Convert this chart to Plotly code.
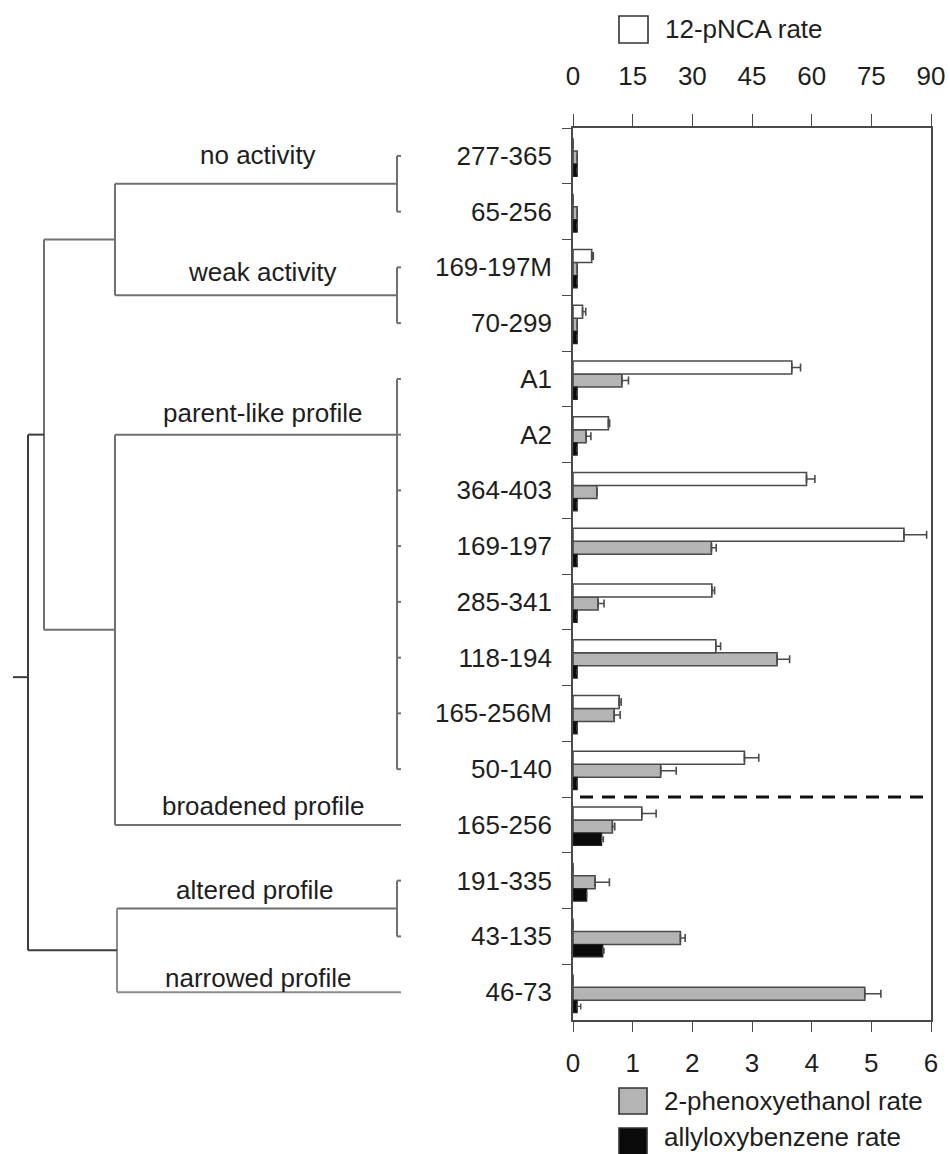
import plotly.graph_objects as go

# Truncation variants, top to bottom
categories = ["277-365", "65-256", "169-197M", "70-299", "A1", "A2", "364-403", "169-197",
              "285-341", "118-194", "165-256M", "50-140", "165-256", "191-335", "43-135", "46-73"]

# 12-pNCA rate (upper axis, 0-90)
pnca_rate = [0, 0, 4.7, 2.4, 55.0, 8.9, 58.7, 83.2, 34.9, 35.9, 11.6, 43.1, 17.3, 0, 0, 0]
pnca_err = [0, 0, 0.4, 0.8, 2.2, 0.3, 2.1, 5.7, 0.7, 1.2, 0.5, 3.6, 3.6, 0, 0, 0]

# 2-phenoxyethanol rate (lower axis, 0-6)
phenoxy_rate = [0.07, 0.07, 0.07, 0.07, 0.82, 0.22, 0.40, 2.32, 0.42, 3.42, 0.69, 1.47, 0.66, 0.37, 1.80, 4.89]
phenoxy_err = [0, 0, 0, 0, 0.11, 0.08, 0, 0.08, 0.10, 0.21, 0.10, 0.26, 0.04, 0.24, 0.08, 0.27]

# allyloxybenzene rate (lower axis, 0-6)
allyl_rate = [0.07, 0.07, 0.07, 0.07, 0.07, 0.07, 0.07, 0.07, 0.07, 0.07, 0.07, 0.07, 0.48, 0.23, 0.50, 0.07]
allyl_err = [0, 0, 0, 0, 0, 0, 0, 0, 0, 0, 0, 0, 0.03, 0, 0.02, 0.06]

pnca_ticks = [0, 15, 30, 45, 60, 75, 90]
low_ticks = [0, 1, 2, 3, 4, 5, 6]

series_names = ["12-pNCA rate", "2-phenoxyethanol rate", "allyloxybenzene rate"]

W, H = 950, 1154
L, R, T, B = 573, 931, 128, 1020
FONT = "Liberation Sans, Arial, sans-serif"
TXT = "#1e1e1e"
EDGE = "#4a4a4a"
TREE = "#707070"
TREE_ROOT = "#3c3c3c"
TREE_LIGHT = "#8c8c8c"
FS = 26


def px_x(p):
    return (p - L) / (R - L)


def px_y(p):
    return (B - p) / (B - T)


def plus_only(err):
    return [e if e else None for e in err]


n = len(categories)
bar_w = 0.233

fig = go.Figure()
fig.add_trace(go.Bar(
    y=categories, x=pnca_rate, orientation="h", xaxis="x2", yaxis="y",
    name=series_names[0], offset=-0.32, width=bar_w,
    marker=dict(color="white", line=dict(color=EDGE, width=1.6)),
    error_x=dict(type="data", symmetric=False, array=plus_only(pnca_err),
                 arrayminus=[0] * n, color=EDGE, thickness=1.6, width=4),
))
fig.add_trace(go.Bar(
    y=categories, x=phenoxy_rate, orientation="h", xaxis="x", yaxis="y",
    name=series_names[1], offset=-0.087, width=bar_w,
    marker=dict(color="#b4b4b4", line=dict(color=EDGE, width=1.6)),
    error_x=dict(type="data", symmetric=False, array=plus_only(phenoxy_err),
                 arrayminus=[0] * n, color=EDGE, thickness=1.6, width=4),
))
fig.add_trace(go.Bar(
    y=categories, x=allyl_rate, orientation="h", xaxis="x", yaxis="y",
    name=series_names[2], offset=0.146, width=0.22,
    marker=dict(color="#0a0a0a", line=dict(color="#222222", width=1.2)),
    error_x=dict(type="data", symmetric=False, array=plus_only(allyl_err),
                 arrayminus=[0] * n, color=EDGE, thickness=1.4, width=3),
))

axis_common = dict(showgrid=False, zeroline=False, showline=True, linecolor=EDGE,
                   linewidth=1.6, ticks="outside", tickcolor=EDGE, tickwidth=1.4,
                   automargin=False,
                   tickfont=dict(family=FONT, size=FS, color=TXT))

fig.update_layout(
    width=W, height=H,
    margin=dict(l=L, r=W - R, t=T, b=H - B, pad=0, autoexpand=False),
    paper_bgcolor="white", plot_bgcolor="white",
    barmode="overlay", showlegend=False,
    font=dict(family=FONT, size=FS, color=TXT),
    xaxis=dict(range=[0, 6], tickvals=low_ticks, ticklen=10, ticklabelstandoff=9,
               **axis_common),
    xaxis2=dict(range=[0, 90], tickvals=pnca_ticks, overlaying="x", side="top",
                ticklen=12, ticklabelstandoff=19, anchor="y", **axis_common),
    yaxis=dict(type="category", categoryorder="array", categoryarray=categories,
               range=[n - 0.5, -0.5], tickson="boundaries", ticklen=9,
               ticklabelstandoff=14, mirror=True, **axis_common),
)

shapes = []

# dashed separator between parent-like and broadened groups
shapes.append(dict(type="line", xref="paper", yref="y", x0=px_x(580), x1=px_x(925),
                   y0=11.5, y1=11.5, line=dict(color="#111111", width=3, dash="13px,9px")))

# dendrogram branches: (x0 px, y0 row, x1 px, y1 row, colour)
tree = [
    (115, 0.5, 397, 0.5, TREE), (397, 0, 397, 1, TREE),
    (115, 2.5, 397, 2.5, TREE), (397, 2, 397, 3, TREE),
    (115, 0.5, 115, 2.5, TREE), (44, 1.5, 115, 1.5, TREE),
    (115, 5, 397, 5, TREE), (397, 4, 397, 11, TREE),
    (115, 12, 401, 12, TREE), (115, 5, 115, 12, TREE),
    (44, 8.5, 115, 8.5, TREE), (44, 1.5, 44, 8.5, TREE),
    (28, 5, 44, 5, TREE_ROOT),
    (117, 13.5, 397, 13.5, TREE), (397, 13, 397, 14, TREE),
    (117, 15, 401, 15, TREE_LIGHT), (117, 13.5, 117, 15, TREE_LIGHT),
    (28, 14.25, 117, 14.25, TREE_ROOT), (28, 5, 28, 14.25, TREE_ROOT),
    (13, 9.35, 28, 9.35, TREE_ROOT),
]
for x0, y0, x1, y1, col in tree:
    shapes.append(dict(type="line", xref="paper", yref="y", x0=px_x(x0), x1=px_x(x1),
                       y0=y0, y1=y1, line=dict(color=col, width=2)))
for leaf in [0, 1, 2, 3, 4, 5, 6, 7, 8, 9, 10, 11, 13, 14]:
    shapes.append(dict(type="line", xref="paper", yref="y", x0=px_x(397), x1=px_x(401),
                       y0=leaf, y1=leaf, line=dict(color=TREE, width=2)))

# legend swatches
swatches = [((619, 16, 648, 43), "white"),
            ((619, 1088, 647, 1114), "#b4b4b4"),
            ((619, 1128, 647, 1160), "#0a0a0a")]
for (x0, y0, x1, y1), col in swatches:
    shapes.append(dict(type="rect", xref="paper", yref="paper",
                       x0=px_x(x0), x1=px_x(x1), y0=px_y(y1), y1=px_y(y0),
                       fillcolor=col, line=dict(color="#333333", width=1.6)))

fig.update_layout(shapes=shapes)

annotations = []
legend_pos = [(663, 29), (662, 1101), (662, 1137)]
for name, (x, y) in zip(series_names, legend_pos):
    annotations.append(dict(text=name, xref="paper", yref="paper", x=px_x(x), y=px_y(y),
                            xanchor="left", yanchor="middle", showarrow=False,
                            font=dict(family=FONT, size=FS, color=TXT)))

cluster_labels = [("no activity", 258, 155), ("weak activity", 262, 272),
                  ("parent-like profile", 262, 413), ("broadened profile", 263, 806),
                  ("altered profile", 255, 890), ("narrowed profile", 258, 978)]
for text, x, y in cluster_labels:
    annotations.append(dict(text=text, xref="paper", yref="paper", x=px_x(x), y=px_y(y),
                            xanchor="center", yanchor="middle", showarrow=False,
                            font=dict(family=FONT, size=FS, color=TXT)))

fig.update_layout(annotations=annotations)

fig.write_html("out.html")
